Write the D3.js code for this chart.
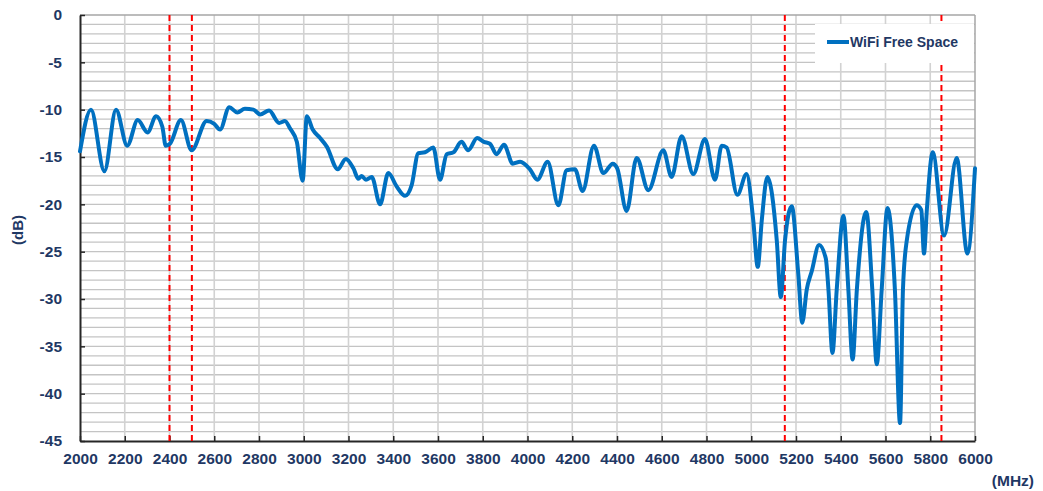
<!DOCTYPE html>
<html>
<head>
<meta charset="utf-8">
<script src="https://cdn.jsdelivr.net/npm/d3@7"></script>
<style>
  html, body { margin: 0; padding: 0; background: #ffffff; }
  svg { display: block; }
  text { font-family: Arial, "Liberation Sans", sans-serif; font-weight: bold; }
</style>
</head>
<body>
<svg id="chart" width="1043" height="491"></svg>
<script>
const seriesName = "WiFi Free Space";
const freqs = [2000,2049,2109,2161,2211,2258,2302,2340,2368,2383,2402,2451,2499,2566,2600,2626,2667,2703,2737,2775,2805,2845,2890,2916,2939,2969,2995,3014,3040,3073,3103,3152,3188,3222,3244,3259,3278,3304,3341,3378,3415,3453,3482,3512,3542,3579,3609,3639,3669,3705,3735,3775,3805,3832,3862,3895,3934,3967,4011,4044,4090,4138,4175,4212,4246,4297,4339,4381,4401,4443,4488,4540,4607,4644,4689,4741,4793,4838,4868,4890,4938,4979,5009,5029,5047,5072,5114,5132,5151,5181,5210,5228,5248,5270,5303,5333,5345,5363,5382,5412,5434,5453,5472,5514,5541,5561,5583,5609,5642,5665,5678,5694,5739,5760,5772,5785,5811,5862,5918,5966,6000];
const dbValues = [-14.4,-10.0,-16.5,-10.0,-13.8,-11.1,-12.4,-10.7,-11.8,-13.8,-13.6,-11.1,-14.3,-11.2,-11.5,-12.1,-9.75,-10.3,-9.9,-10.0,-10.5,-10.1,-11.4,-11.2,-12.0,-13.4,-17.5,-10.7,-12.1,-13.0,-13.9,-16.3,-15.2,-16.2,-17.3,-17.0,-17.4,-17.1,-20.0,-16.7,-18.1,-19.1,-18.0,-14.6,-14.5,-14.0,-17.4,-14.7,-14.5,-13.4,-14.3,-13.0,-13.4,-13.6,-14.7,-13.7,-15.7,-15.5,-16.3,-17.4,-15.5,-20.1,-16.4,-16.3,-18.6,-13.8,-16.7,-15.7,-16.2,-20.7,-15.1,-18.5,-14.3,-17.1,-12.8,-16.8,-13.1,-17.4,-13.8,-14.0,-19.0,-16.8,-21.7,-26.6,-21.7,-17.1,-23.8,-29.8,-23.8,-20.2,-27.3,-32.5,-29.0,-27.1,-24.3,-25.7,-29.0,-35.7,-29.0,-21.2,-29.0,-36.4,-29.0,-20.8,-29.0,-36.9,-29.0,-20.4,-29.0,-43.1,-29.0,-24.0,-20.1,-20.6,-25.2,-20.5,-14.5,-23.3,-15.1,-25.2,-16.2];
const xTicks = [2000,2200,2400,2600,2800,3000,3200,3400,3600,3800,4000,4200,4400,4600,4800,5000,5200,5400,5600,5800,6000];
const yTicks = [0,-5,-10,-15,-20,-25,-30,-35,-40,-45];
const markerFreqs = [2400,2500,5150,5850];

const svg = d3.select("#chart");
const L = 80, R = 975, T = 15, B = 441;
const x = d3.scaleLinear().domain([2000, 6000]).range([L, R]);
const y = d3.scaleLinear().domain([-45, 0]).range([B, T]);
const navy = "#1f3864";
const fam = "Arial, 'Liberation Sans', sans-serif";

// horizontal grid every 1 dB
svg.append("g").selectAll("line").data(d3.range(-44, 0, 1)).join("line")
  .attr("x1", L).attr("x2", R).attr("y1", d => y(d)).attr("y2", d => y(d))
  .attr("stroke", "#c4c4c4").attr("stroke-width", 1.3);
// vertical grid
svg.append("g").selectAll("line").data(xTicks.slice(1, -1)).join("line")
  .attr("x1", d => x(d)).attr("x2", d => x(d)).attr("y1", T).attr("y2", B)
  .attr("stroke", "#d2d2d2").attr("stroke-width", 1.6);

// frame top/right
svg.append("line").attr("x1", L).attr("x2", R).attr("y1", T).attr("y2", T).attr("stroke", "#a6a6a6").attr("stroke-width", 1.5);
svg.append("line").attr("x1", R).attr("x2", R).attr("y1", T).attr("y2", B).attr("stroke", "#a6a6a6").attr("stroke-width", 1.5);

// axes
const xAxis = d3.axisBottom(x).tickValues(xTicks).tickSizeInner(-5).tickSizeOuter(0).tickPadding(12).tickFormat(d => String(d));
const gx = svg.append("g").attr("transform", `translate(0,${B})`).call(xAxis);
gx.select(".domain").attr("stroke", "#262626").attr("stroke-width", 2);
gx.selectAll(".tick line").attr("stroke", "#262626").attr("stroke-width", 1.5);
gx.selectAll(".tick text").attr("fill", navy).attr("font-size", 15.5).attr("font-weight", "bold").attr("font-family", fam);

const yAxis = d3.axisLeft(y).tickValues(yTicks).tickSizeInner(-5).tickSizeOuter(0).tickPadding(18).tickFormat(d => String(d));
const gy = svg.append("g").attr("transform", `translate(${L},0)`).call(yAxis);
gy.select(".domain").attr("stroke", "#262626").attr("stroke-width", 2);
gy.selectAll(".tick line").attr("stroke", "#262626").attr("stroke-width", 1.5);
gy.selectAll(".tick text").attr("fill", navy).attr("font-size", 15.5).attr("font-weight", "bold").attr("font-family", fam);

// red dashed markers
svg.append("g").selectAll("line").data(markerFreqs).join("line")
  .attr("x1", d => x(d)).attr("x2", d => x(d)).attr("y1", T).attr("y2", B + 4)
  .attr("stroke", "#ff0000").attr("stroke-width", 2).attr("stroke-dasharray", "6,4");

// data line
const data = freqs.map((f, i) => ({ f, v: dbValues[i] }));
const line = d3.line().x(d => x(d.f)).y(d => y(d.v)).curve(d3.curveMonotoneX);
svg.append("path").datum(data).attr("d", line)
  .attr("fill", "none").attr("stroke", "#0070c0").attr("stroke-width", 4)
  .attr("stroke-linejoin", "round").attr("stroke-linecap", "round");

// legend
const lg = svg.append("g");
lg.append("rect").attr("x", 815).attr("y", 24).attr("width", 159).attr("height", 39).attr("fill", "#ffffff");
lg.append("line").attr("x1", 827).attr("x2", 849).attr("y1", 42).attr("y2", 42).attr("stroke", "#0070c0").attr("stroke-width", 4);
lg.append("text").attr("x", 850).attr("y", 47).attr("font-size", 14).attr("fill", navy).text(seriesName);

// axis titles
svg.append("text").attr("x", 1034).attr("y", 486).attr("text-anchor", "end").attr("font-size", 15.5).attr("fill", navy).text("(MHz)");
svg.append("text").attr("transform", "translate(23,230) rotate(-90)").attr("text-anchor", "middle").attr("font-size", 15).attr("fill", navy).text("(dB)");
</script>
</body>
</html>
